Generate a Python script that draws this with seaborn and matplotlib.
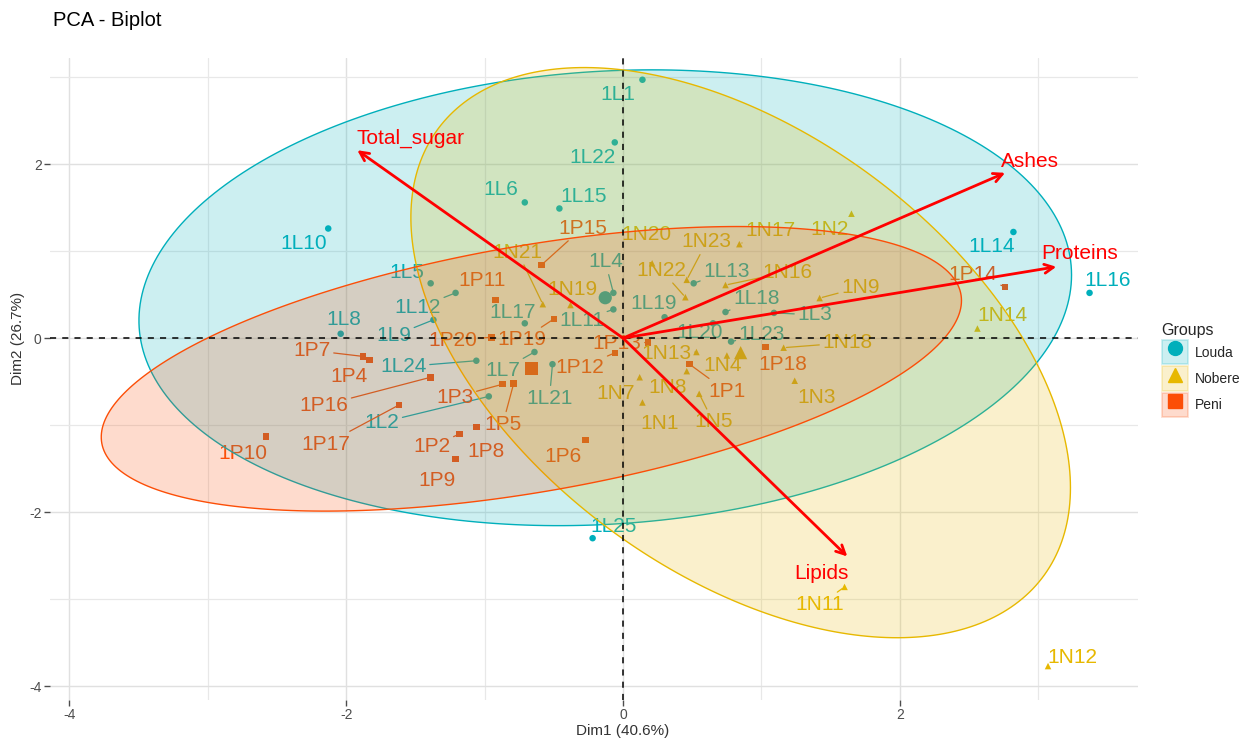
import numpy as np
import pandas as pd
import matplotlib
matplotlib.use("Agg")
import matplotlib.pyplot as plt
import seaborn as sns
from matplotlib.patches import Polygon, Patch
from matplotlib.lines import Line2D
from matplotlib.legend_handler import HandlerTuple

louda_names = ["1L1", "1L2", "1L3", "1L4", "1L5", "1L6", "1L7", "1L8", "1L9", "1L10",
               "1L11", "1L12", "1L13", "1L14", "1L15", "1L16", "1L17", "1L18", "1L19",
               "1L20", "1L21", "1L22", "1L23", "1L24", "1L25"]
louda_dim1 = [0.14, -0.97, 1.09, -0.07, -1.39, -0.71, -0.64, -2.04, -1.37, -2.13,
              -0.07, -1.21, 0.51, 2.82, -0.46, 3.37, -0.71, 0.74, 0.30,
              0.65, -0.51, -0.06, 0.78, -1.06, -0.22]
louda_dim2 = [2.97, -0.67, 0.29, 0.52, 0.63, 1.56, -0.16, 0.05, 0.21, 1.26,
              0.33, 0.52, 0.63, 1.22, 1.49, 0.52, 0.17, 0.30, 0.24,
              0.17, -0.30, 2.25, -0.04, -0.26, -2.30]

nobere_names = ["1N1", "1N2", "1N3", "1N4", "1N5", "1N7", "1N8", "1N9", "1N11", "1N12",
                "1N13", "1N14", "1N16", "1N17", "1N18", "1N19", "1N20", "1N21", "1N22", "1N23"]
nobere_dim1 = [0.14, 1.65, 1.24, 0.75, 0.55, 0.12, 0.46, 1.42, 1.60, 3.07,
               0.53, 2.56, 0.74, 0.84, 1.16, -0.38, 0.21, -0.58, 0.45, 0.46]
nobere_dim2 = [-0.74, 1.43, -0.49, -0.20, -0.64, -0.45, -0.38, 0.46, -2.86, -3.77,
               -0.16, 0.11, 0.61, 1.08, -0.11, 0.38, 0.86, 0.39, 0.47, 0.67]

peni_names = ["1P1", "1P2", "1P3", "1P4", "1P5", "1P6", "1P7", "1P8", "1P9", "1P10",
              "1P11", "1P12", "1P13", "1P14", "1P15", "1P16", "1P17", "1P18", "1P19", "1P20"]
peni_dim1 = [0.48, -1.18, -0.87, -1.83, -0.79, -0.27, -1.88, -1.06, -1.21, -2.58,
             -0.92, -0.06, 0.18, 2.76, -0.59, -1.39, -1.62, 1.03, -0.50, -0.95]
peni_dim2 = [-0.30, -1.10, -0.53, -0.25, -0.52, -1.17, -0.21, -1.02, -1.39, -1.13,
             0.44, -0.17, -0.05, 0.59, 0.84, -0.45, -0.77, -0.10, 0.22, 0.01]

# variables (fleches)
var_names = ["Total_sugar", "Ashes", "Proteins", "Lipids"]
var_dim1 = [-1.92, 2.76, 3.13, 1.62]
var_dim2 = [2.16, 1.90, 0.82, -2.51]

groups = ["Louda", "Nobere", "Peni"]
palette = {"Louda": "#00AFBB", "Nobere": "#E7B800", "Peni": "#FC4E07"}
markers = {"Louda": "o", "Nobere": "^", "Peni": "s"}

# decalage des etiquettes (pixels) pour imiter ggrepel
label_offsets = {
    "1L1": (-25, -15), "1L2": (-107, -26), "1L3": (41, -2), "1L4": (-8, 31), "1L5": (-24, 11),
    "1L6": (-24, 13), "1L7": (-32, -18), "1L8": (3, 14), "1L9": (-40, -16), "1L10": (-25, -15),
    "1L11": (-32, -11), "1L12": (-38, -15), "1L13": (33, 12), "1L14": (-22, -15), "1L15": (24, 12),
    "1L16": (18, 12), "1L17": (-12, 11), "1L18": (31, 14), "1L19": (-11, 14), "1L20": (-13, -9),
    "1L21": (-3, -34), "1L22": (-22, -15), "1L23": (31, 7), "1L24": (-73, -6), "1L25": (21, 12),
    "1N1": (17, -21), "1N2": (-22, -16), "1N3": (22, -17), "1N4": (-4, -10), "1N5": (14, -28),
    "1N7": (-24, -16), "1N8": (-19, -16), "1N9": (41, 11), "1N11": (-25, -18), "1N12": (24, 9),
    "1N13": (-30, -1), "1N14": (25, 13), "1N16": (62, 13), "1N17": (31, 14), "1N18": (64, 5),
    "1N19": (2, 16), "1N20": (-6, 29), "1N21": (-25, 52), "1N22": (-24, 27), "1N23": (20, 38),
    "1P1": (37, -27), "1P2": (-28, -13), "1P3": (-48, -13), "1P4": (-21, -17), "1P5": (-11, -41),
    "1P6": (-23, -17), "1P7": (-51, 6), "1P8": (10, -25), "1P9": (-19, -21), "1P10": (-23, -17),
    "1P11": (-14, 19), "1P12": (-35, -15), "1P13": (-31, -1), "1P14": (-32, 12), "1P15": (41, 37),
    "1P16": (-107, -28), "1P17": (-73, -39), "1P18": (17, -18), "1P19": (-32, -21), "1P20": (-39, -3),
}
var_offsets = {"Total_sugar": (53, 12), "Ashes": (25, 11), "Proteins": (23, 13), "Lipids": (-26, -17)}

df = pd.concat([
    pd.DataFrame({"name": louda_names, "Dim1": louda_dim1, "Dim2": louda_dim2, "Groups": "Louda"}),
    pd.DataFrame({"name": nobere_names, "Dim1": nobere_dim1, "Dim2": nobere_dim2, "Groups": "Nobere"}),
    pd.DataFrame({"name": peni_names, "Dim1": peni_dim1, "Dim2": peni_dim2, "Groups": "Peni"}),
], ignore_index=True)


def ellipse_norm(x, y, level=0.95, n=300):
    # meme calcul que stat_ellipse(type = "norm")
    pts = np.column_stack([x, y])
    center = pts.mean(axis=0)
    cov = np.cov(pts, rowvar=False)
    d = len(x) - 1
    fq = d / 2 * ((1 - level) ** (-2 / d) - 1)
    radius = np.sqrt(2 * fq)
    t = np.linspace(0, 2 * np.pi, n)
    circle = np.column_stack([np.cos(t), np.sin(t)])
    return center + radius * circle @ np.linalg.cholesky(cov).T


sns.set_theme(style="white")
plt.rcParams["font.family"] = ["Liberation Sans", "DejaVu Sans"]
plt.rcParams["axes.unicode_minus"] = False

fig = plt.figure(figsize=(12.44, 7.40), dpi=100)
ax = fig.add_axes([50 / 1244, 1 - 700 / 740, (1138 - 50) / 1244, (700 - 58) / 740])

ax.set_xlim(-4.14, 3.72)
ax.set_ylim(-4.16, 3.22)
ax.set_xticks([-4, -2, 0, 2])
ax.set_yticks([-4, -2, 0, 2])
ax.set_xticks([-3, -1, 1, 3], minor=True)
ax.set_yticks([-3, -1, 1, 3], minor=True)
ax.grid(True, which="major", color="#e0e0e0", lw=1.0, zorder=0)
ax.grid(True, which="minor", color="#e8e8e8", lw=0.9, zorder=0)
for s in ax.spines.values():
    s.set_visible(False)
ax.tick_params(axis="both", which="major", length=4, width=1, color="#4d4d4d",
               labelcolor="#4d4d4d", labelsize=10, bottom=True, left=True, pad=2)
ax.tick_params(axis="both", which="minor", length=0)

sns.scatterplot(data=df, x="Dim1", y="Dim2", hue="Groups", style="Groups",
                palette=palette, markers=markers, s=22, linewidth=0,
                legend=False, ax=ax, zorder=3)

# etiquettes des individus
for _, row in df.iterrows():
    dx, dy = label_offsets[row["name"]]
    col = palette[row["Groups"]]
    arrow = None
    if np.hypot(dx, dy) > 30:
        arrow = dict(arrowstyle="-", color=col, lw=0.9, shrinkA=0, shrinkB=2)
    ax.annotate(row["name"], xy=(row["Dim1"], row["Dim2"]), xytext=(dx, dy),
                textcoords="offset pixels", ha="center", va="center",
                fontsize=15, color=col, arrowprops=arrow, zorder=3)

# centres de gravite
centres = df.groupby("Groups")[["Dim1", "Dim2"]].mean().reset_index()
sns.scatterplot(data=centres, x="Dim1", y="Dim2", hue="Groups", style="Groups",
                palette=palette, markers=markers, s=90, linewidth=0,
                legend=False, ax=ax, zorder=3)

# ellipses de concentration
for g in groups:
    sub = df[df["Groups"] == g]
    xy = ellipse_norm(sub["Dim1"].values, sub["Dim2"].values)
    ax.add_patch(Polygon(xy, closed=True, facecolor=palette[g], alpha=0.2,
                         edgecolor="none", zorder=4))
    ax.add_patch(Polygon(xy, closed=True, facecolor="none",
                         edgecolor=palette[g], lw=1.0, zorder=4))

ax.axhline(0, color="black", ls=(0, (4, 4)), lw=1.1, zorder=5)
ax.axvline(0, color="black", ls=(0, (4, 4)), lw=1.1, zorder=5)

# fleches des variables
for name, vx, vy in zip(var_names, var_dim1, var_dim2):
    ax.annotate("", xy=(vx, vy), xytext=(0, 0),
                arrowprops=dict(arrowstyle="->", color="red", lw=2.0,
                                mutation_scale=16, shrinkA=0, shrinkB=0), zorder=6)
    dx, dy = var_offsets[name]
    ax.annotate(name, xy=(vx, vy), xytext=(dx, dy), textcoords="offset pixels",
                ha="center", va="center", fontsize=15, color="red", zorder=6)

ax.set_xlabel("")
ax.set_ylabel("")
fig.text(623 / 1244, 1 - 731 / 740, "Dim1 (40.6%)", fontsize=11, color="#333333",
         ha="center", va="center")
fig.text(18 / 1244, 1 - 338 / 740, "Dim2 (26.7%)", fontsize=11, color="#333333",
         ha="center", va="center", rotation=90)
fig.text(53 / 1244, 1 - 20 / 740, "PCA - Biplot", fontsize=14.5, color="black",
         ha="left", va="center")

handles = [(Patch(facecolor=palette[g], alpha=0.2, edgecolor=palette[g], lw=1.3),
            Line2D([], [], marker=markers[g], color=palette[g], ls="", markersize=10))
           for g in groups]
leg = fig.legend(handles, groups, title="Groups", loc="center left",
                 bbox_to_anchor=(1152 / 1244, 1 - 370 / 740), frameon=False,
                 handler_map={tuple: HandlerTuple(ndivide=1, pad=0)},
                 fontsize=10, title_fontsize=11.5, handlelength=1.9, handleheight=2.3,
                 labelspacing=0.15, handletextpad=0.5, borderpad=0.2)
leg._legend_box.align = "left"

fig.savefig("out.png", dpi=100)
